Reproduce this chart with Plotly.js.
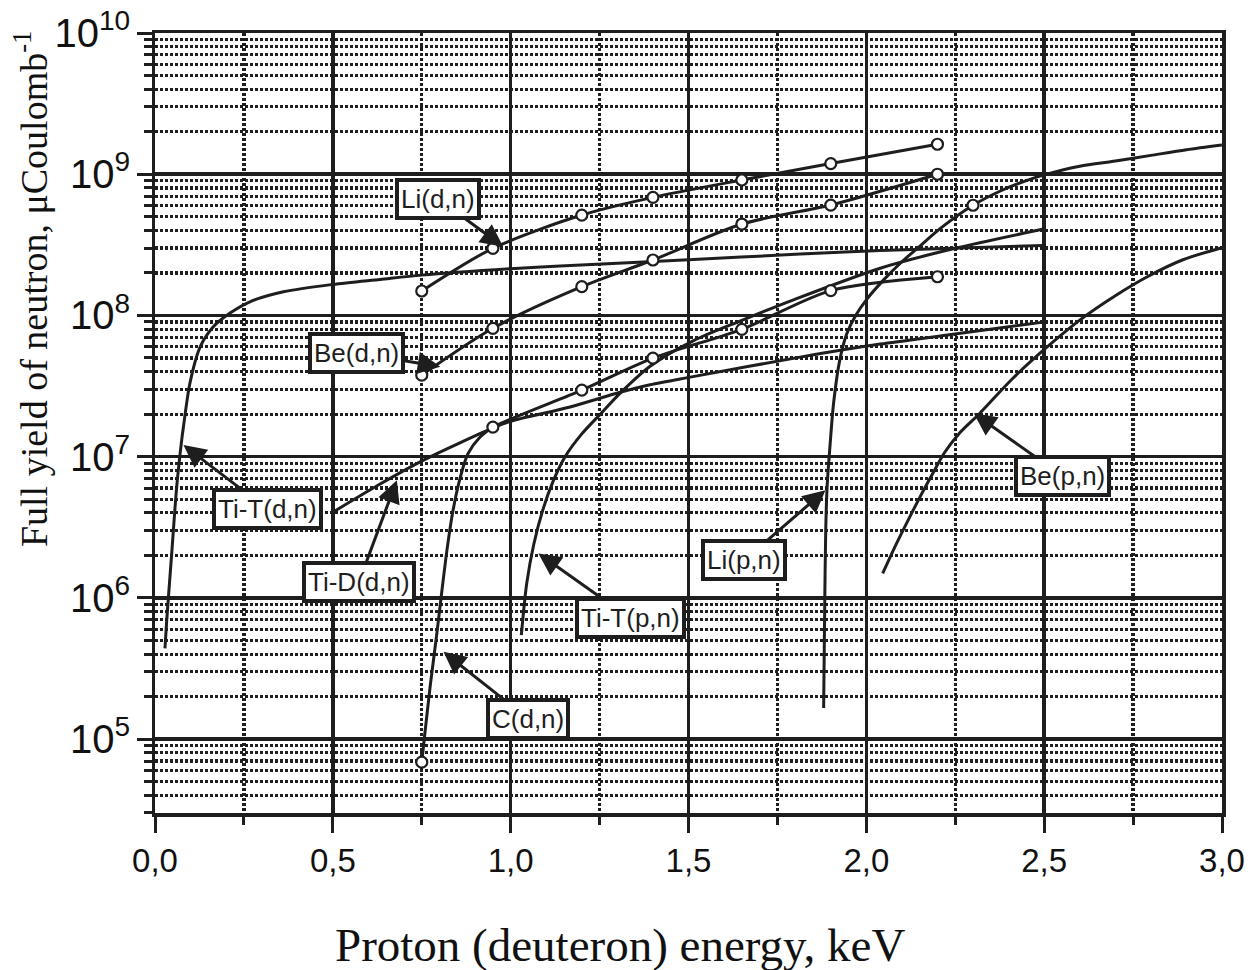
<!DOCTYPE html>
<html>
<head>
<meta charset="utf-8">
<script src="https://cdn.plot.ly/plotly-3.0.1.min.js"></script>
<style>
html,body{margin:0;padding:0;background:#ffffff;}
#chart{width:1253px;height:970px;}
</style>
</head>
<body>
<div id="chart"></div>
<script>
// ---------- data ----------
// Ti-T(d,n)
const tiTdnX = [0.028, 0.033, 0.047, 0.061, 0.075, 0.080, 0.098, 0.127, 0.164, 0.211, 0.267, 0.361, 0.50, 0.633, 0.75, 1.0, 1.139, 1.5, 1.814, 2.039, 2.498];
const tiTdnY = [4.39e5, 6.97e5, 2.07e6, 6.12e6, 1.31e7, 1.63e7, 3.30e7, 6.0e7, 8.32e7, 1.04e8, 1.25e8, 1.47e8, 1.66e8, 1.80e8, 1.93e8, 2.14e8, 2.24e8, 2.48e8, 2.72e8, 2.88e8, 3.13e8];

// Ti-D(d,n)
const tiDdnX = [0.502, 0.628, 0.755, 0.951, 1.0, 1.167, 1.308, 1.392, 1.505, 1.814, 2.039, 2.228, 2.498];
const tiDdnY = [4.07e6, 6.30e6, 9.46e6, 1.60e7, 1.78e7, 2.25e7, 2.86e7, 3.23e7, 3.66e7, 5.07e7, 6.27e7, 7.26e7, 8.97e7];

// Li(d,n) (measured points, open circles)
const liDnX = [0.75, 0.95, 1.2, 1.4, 1.65, 1.9, 2.2];
const liDnY = [1.49e8, 2.99e8, 5.14e8, 6.86e8, 9.10e8, 1.19e9, 1.63e9];

// Be(d,n) (measured points, open circles)
const beDnX = [0.75, 0.95, 1.2, 1.4, 1.65, 1.9, 2.2];
const beDnY = [3.78e7, 8.11e7, 1.60e8, 2.47e8, 4.44e8, 6.05e8, 1.0e9];

// C(d,n) curve and its measured points
const cDnX = [0.750, 0.757, 0.774, 0.793, 0.808, 0.822, 0.838, 0.858, 0.880, 0.914, 0.951, 1.2, 1.4, 1.65, 1.9, 2.2];
const cDnY = [6.87e4, 1.0e5, 2.40e5, 5.75e5, 1.20e6, 2.29e6, 4.17e6, 7.08e6, 1.05e7, 1.38e7, 1.62e7, 2.96e7, 4.99e7, 7.98e7, 1.50e8, 1.88e8];
const cDnPtsX = [0.75, 0.95, 1.2, 1.4, 1.65, 1.9, 2.2];
const cDnPtsY = [6.87e4, 1.62e7, 2.96e7, 4.99e7, 7.98e7, 1.50e8, 1.88e8];

// Ti-T(p,n)
const tiTpnX = [1.030, 1.045, 1.065, 1.09, 1.12, 1.153, 1.20, 1.252, 1.308, 1.392, 1.513, 1.65, 1.795, 2.039, 2.25, 2.498];
const tiTpnY = [5.46e5, 1.26e6, 2.40e6, 4.17e6, 6.76e6, 1.0e7, 1.45e7, 2.0e7, 2.82e7, 4.37e7, 6.61e7, 9.23e7, 1.29e8, 2.16e8, 2.99e8, 4.09e8];

// Li(p,n)
const liPnX = [1.880, 1.883, 1.886, 1.890, 1.897, 1.908, 1.925, 1.945, 1.97, 2.00, 2.05, 2.10, 2.15, 2.21, 2.30, 2.38, 2.45, 2.50, 2.60, 2.70, 2.80, 2.90, 3.0];
const liPnY = [1.66e5, 8.91e5, 3.16e6, 6.31e6, 1.12e7, 2.40e7, 4.79e7, 7.41e7, 1.0e8, 1.29e8, 1.80e8, 2.40e8, 3.09e8, 4.17e8, 6.03e8, 7.67e8, 9.02e8, 9.89e8, 1.14e9, 1.24e9, 1.36e9, 1.49e9, 1.61e9];
const liPnPtsX = [2.30];
const liPnPtsY = [6.03e8];

// Be(p,n)
const bePnX = [2.046, 2.08, 2.113, 2.15, 2.187, 2.22, 2.26, 2.32, 2.41, 2.51, 2.60, 2.70, 2.79, 2.89, 3.0];
const bePnY = [1.49e6, 2.29e6, 3.37e6, 5.13e6, 7.62e6, 1.07e7, 1.45e7, 2.04e7, 3.55e7, 6.03e7, 9.27e7, 1.38e8, 1.88e8, 2.48e8, 3.02e8];

// tick labels
const xTickVals = [0, 0.5, 1.0, 1.5, 2.0, 2.5, 3.0];
const xTickText = ['0,0', '0,5', '1,0', '1,5', '2,0', '2,5', '3,0'];

// titles
const xTitle = 'Proton (deuteron) energy, keV';
const yTitle = 'Full yield of neutron, μCoulomb<sup>-1</sup>';

// labels: [text, arrow x, arrow y (log10), box offset x px, box offset y px]
const labels = [
  ['Li(d,n)',   0.979, 8.487, -65, -48],
  ['Be(d,n)',   0.802, 7.637, -84, -14],
  ['Ti-T(d,n)', 0.080, 7.082,  84,  64],
  ['Ti-D(d,n)', 0.680, 6.834, -38, 102],
  ['C(d,n)',    0.811, 5.618,  85,  67],
  ['Ti-T(p,n)', 1.078, 6.315,  92,  65],
  ['Li(p,n)',   1.885, 6.763, -81,  70],
  ['Be(p,n)',   2.302, 7.307,  89,  63]
];

// ---------- chart ----------
const INK = '#1e1e1e';
const lineStyle = {color: INK, width: 3, shape: 'spline', smoothing: 0.8};
const circle = {symbol: 'circle', size: 11, color: '#ffffff', line: {color: INK, width: 2.2}};

function curve(x, y) {
  return {x: x, y: y, type: 'scatter', mode: 'lines', line: lineStyle, hoverinfo: 'skip', showlegend: false};
}
function pts(x, y) {
  return {x: x, y: y, type: 'scatter', mode: 'markers', marker: circle, hoverinfo: 'skip', showlegend: false};
}
function linePts(x, y) {
  return {x: x, y: y, type: 'scatter', mode: 'lines+markers', line: lineStyle, marker: circle, hoverinfo: 'skip', showlegend: false};
}

const traces = [
  curve(tiTdnX, tiTdnY),
  curve(tiDdnX, tiDdnY),
  curve(tiTpnX, tiTpnY),
  curve(bePnX, bePnY),
  curve(liPnX, liPnY),
  pts(liPnPtsX, liPnPtsY),
  curve(cDnX, cDnY),
  pts(cDnPtsX, cDnPtsY),
  linePts(beDnX, beDnY),
  linePts(liDnX, liDnY)
];

const annotations = labels.map(function (l) {
  return {
    x: l[1], y: l[2], xref: 'x', yref: 'y',
    text: l[0], showarrow: true,
    ax: l[3], ay: l[4],
    arrowhead: 2, arrowsize: 1.5, arrowwidth: 3, arrowcolor: INK,
    font: {family: 'Liberation Sans, Arial, sans-serif', size: 26, color: INK},
    bgcolor: '#ffffff', bordercolor: INK, borderwidth: 4, borderpad: 2
  };
});

annotations.push({
  text: xTitle, xref: 'paper', yref: 'paper', x: 0.436, y: -0.169,
  xanchor: 'center', yanchor: 'middle', showarrow: false,
  font: {family: 'Liberation Serif, Times New Roman, serif', size: 47, color: '#111'}
});
annotations.push({
  text: yTitle, xref: 'paper', yref: 'paper', x: -0.116, y: 0.672,
  xanchor: 'center', yanchor: 'middle', showarrow: false, textangle: -90,
  font: {family: 'Liberation Serif, Times New Roman, serif', size: 38, color: '#111'}
});

const layout = {
  width: 1253, height: 970,
  margin: {l: 155, r: 31, t: 33, b: 157},
  paper_bgcolor: '#ffffff', plot_bgcolor: '#ffffff',
  separators: ',.',
  showlegend: false,
  xaxis: {
    range: [0, 3],
    tickvals: xTickVals, ticktext: xTickText,
    ticks: 'outside', ticklen: 16, tickwidth: 3, tickcolor: INK,
    showline: true, linewidth: 3.5, linecolor: INK, mirror: true,
    showgrid: true, gridcolor: INK, gridwidth: 3.5,
    zeroline: false,
    tickfont: {family: 'Liberation Sans, Arial, sans-serif', size: 33, color: '#111'},
    minor: {dtick: 0.25, tick0: 0, ticks: 'outside', ticklen: 8, tickwidth: 3, tickcolor: INK,
            showgrid: true, gridcolor: INK, gridwidth: 3.2, griddash: '3px,2px'}
  },
  yaxis: {
    type: 'log',
    range: [4.477, 10],
    dtick: 1, exponentformat: 'power', showexponent: 'all',
    ticks: 'outside', ticklen: 15, tickwidth: 3, tickcolor: INK,
    showline: true, linewidth: 3.5, linecolor: INK, mirror: true,
    showgrid: true, gridcolor: INK, gridwidth: 3.5,
    zeroline: false,
    tickfont: {family: 'Liberation Sans, Arial, sans-serif', size: 32, color: '#111'},
    minor: {dtick: 'D1', ticks: 'outside', ticklen: 8, tickwidth: 3, tickcolor: INK,
            showgrid: true, gridcolor: INK, gridwidth: 3.2, griddash: '3px,2px'}
  },
  annotations: annotations
};

Plotly.newPlot('chart', traces, layout, {staticPlot: true, displayModeBar: false});
</script>
</body>
</html>
